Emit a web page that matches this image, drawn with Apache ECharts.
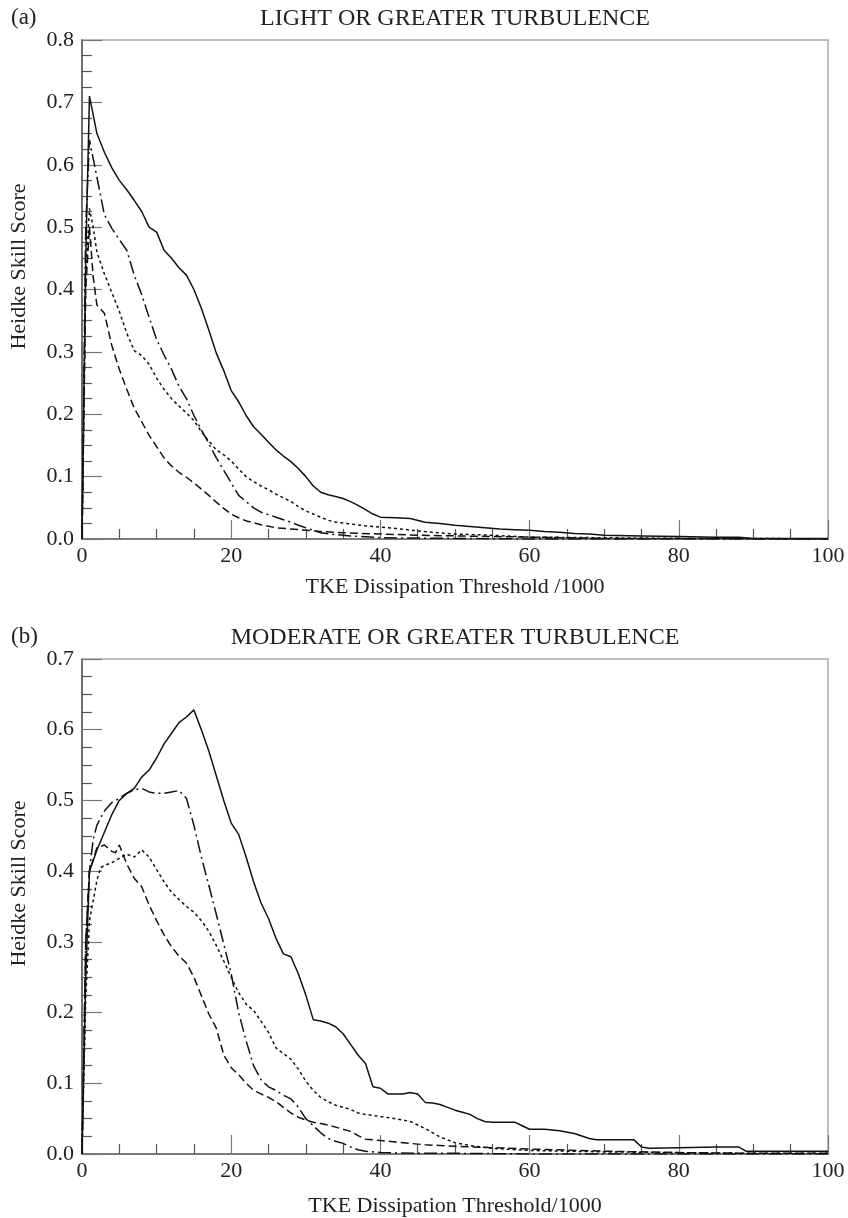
<!DOCTYPE html>
<html>
<head>
<meta charset="utf-8">
<script src="https://cdn.jsdelivr.net/npm/echarts@6/dist/echarts.min.js"></script>
<style>
html,body{margin:0;padding:0;background:#fff;}
#chart{width:848px;height:1218px;}
</style>
</head>
<body>
<div id="chart"></div>
<script>
// ---------- DATA ----------
const panelTitles = ['LIGHT OR GREATER TURBULENCE', 'MODERATE OR GREATER TURBULENCE'];
const panelTags = ['(a)', '(b)'];
const xNames = ['TKE Dissipation Threshold /1000', 'TKE Dissipation Threshold/1000'];
const yName = 'Heidke Skill Score';
const yMax = [0.8, 0.7];

// Panel (a) — light or greater
const aSolid = [[0,0],[0.5,0.45],[1,0.71],[2,0.65],[3,0.62],[4,0.595],[5,0.575],[6,0.56],[7,0.543],[8,0.525],[9,0.5],[10,0.492],[11,0.463],[12,0.45],[13,0.435],[14,0.423],[15,0.4],[16,0.37],[17,0.335],[18,0.298],[19,0.27],[20,0.238],[21,0.22],[22,0.198],[23,0.18],[24,0.168],[25,0.155],[26,0.143],[27,0.133],[28,0.124],[29,0.113],[30,0.1],[31,0.085],[32,0.075],[33,0.071],[34,0.068],[35,0.065],[36,0.06],[37,0.054],[38,0.047],[39,0.04],[40,0.035],[42,0.034],[44,0.033],[46,0.027],[48,0.025],[50,0.022],[52,0.02],[54,0.018],[56,0.016],[58,0.015],[60,0.014],[62,0.012],[64,0.011],[66,0.009],[68,0.008],[70,0.006],[75,0.005],[80,0.004],[85,0.003],[88,0.003],[90,0.001],[95,0.001],[100,0.001]];
const aDashDot = [[0,0],[0.5,0.5],[1,0.64],[1.5,0.61],[2,0.58],[3,0.52],[4,0.498],[5,0.48],[6,0.463],[7,0.423],[8,0.392],[9,0.355],[10,0.32],[11,0.295],[12,0.272],[13,0.245],[14,0.225],[15,0.198],[16,0.175],[17,0.153],[18,0.13],[19,0.11],[20,0.09],[21,0.07],[22,0.06],[23,0.05],[24,0.043],[25,0.039],[26,0.035],[27,0.031],[28,0.027],[29,0.022],[30,0.018],[31,0.014],[32,0.01],[34,0.007],[36,0.005],[40,0.002],[50,0.001],[60,0],[100,0]];
const aDotted = [[0,0],[0.5,0.42],[1,0.53],[1.5,0.5],[2,0.46],[3,0.425],[4,0.395],[5,0.365],[6,0.33],[7,0.302],[8,0.294],[9,0.28],[10,0.258],[11,0.24],[12,0.225],[13,0.213],[14,0.202],[15,0.19],[16,0.172],[17,0.157],[18,0.143],[19,0.135],[20,0.125],[21,0.112],[22,0.1],[23,0.092],[24,0.085],[25,0.079],[26,0.072],[27,0.066],[28,0.06],[29,0.052],[30,0.045],[31,0.04],[32,0.035],[33,0.03],[34,0.027],[36,0.024],[38,0.021],[40,0.019],[42,0.017],[45,0.013],[47,0.011],[50,0.008],[55,0.006],[60,0.003],[70,0.002],[80,0.001],[90,0.001],[100,0]];
const aDashed = [[0,0],[0.5,0.4],[1,0.5],[1.5,0.42],[2,0.375],[3,0.362],[4,0.31],[5,0.272],[6,0.24],[7,0.21],[8,0.188],[9,0.166],[10,0.148],[11,0.13],[12,0.117],[13,0.107],[14,0.099],[15,0.09],[16,0.08],[17,0.07],[18,0.059],[19,0.049],[20,0.04],[21,0.034],[22,0.029],[24,0.023],[26,0.018],[28,0.016],[30,0.014],[32,0.012],[35,0.01],[40,0.008],[45,0.006],[50,0.005],[60,0.003],[70,0.001],[80,0.001],[100,0]];

// Panel (b) — moderate or greater
const bSolid = [[0,0],[0.5,0.25],[1,0.4],[2,0.43],[3,0.455],[4,0.48],[5,0.5],[6,0.51],[7,0.517],[8,0.533],[9,0.543],[10,0.56],[11,0.58],[12,0.595],[13,0.61],[14,0.618],[15,0.628],[16,0.6],[17,0.57],[18,0.535],[19,0.5],[20,0.468],[21,0.452],[22,0.42],[23,0.385],[24,0.355],[25,0.333],[26,0.305],[27,0.283],[28,0.279],[29,0.255],[30,0.225],[31,0.19],[32,0.188],[33,0.185],[34,0.18],[35,0.17],[36,0.155],[37,0.14],[38,0.128],[39,0.095],[40,0.093],[41,0.085],[42,0.085],[43,0.085],[44,0.087],[45,0.085],[46,0.073],[47,0.072],[48,0.07],[49,0.066],[50,0.062],[51,0.059],[52,0.056],[53,0.05],[54,0.046],[55,0.045],[56,0.045],[57,0.045],[58,0.045],[59,0.04],[60,0.035],[62,0.035],[64,0.033],[66,0.029],[68,0.022],[69,0.02],[74,0.02],[75,0.01],[76,0.008],[80,0.009],[85,0.01],[88,0.01],[89,0.004],[100,0.004]];
const bDashDot = [[0,0],[0.5,0.3],[1,0.4],[1.5,0.445],[2,0.465],[3,0.485],[4,0.497],[5,0.503],[6,0.51],[7,0.515],[8,0.517],[9,0.512],[10,0.51],[11,0.51],[12,0.512],[13,0.514],[14,0.503],[15,0.465],[16,0.42],[17,0.38],[18,0.339],[19,0.297],[20,0.255],[21,0.2],[22,0.16],[23,0.125],[24,0.105],[25,0.095],[26,0.09],[27,0.083],[28,0.078],[29,0.066],[30,0.05],[31,0.04],[32,0.03],[33,0.022],[34,0.018],[35,0.015],[36,0.01],[37,0.006],[38,0.004],[40,0.002],[45,0.001],[50,0.001],[60,0],[100,0]];
const bDotted = [[0,0],[0.5,0.22],[1,0.33],[2,0.387],[2.5,0.405],[3,0.408],[4,0.412],[5,0.418],[6,0.424],[7,0.42],[8,0.43],[9,0.42],[10,0.402],[11,0.385],[12,0.37],[13,0.36],[14,0.35],[15,0.342],[16,0.33],[17,0.315],[18,0.295],[19,0.273],[20,0.25],[21,0.228],[22,0.212],[23,0.203],[24,0.188],[25,0.172],[26,0.15],[27,0.142],[28,0.134],[29,0.12],[30,0.103],[31,0.09],[32,0.08],[33,0.074],[34,0.069],[35,0.066],[36,0.063],[37,0.058],[38,0.056],[40,0.053],[42,0.05],[44,0.046],[46,0.036],[48,0.024],[50,0.016],[52,0.012],[55,0.008],[60,0.005],[70,0.003],[80,0.002],[90,0.001],[100,0.001]];
const bDashed = [[0,0],[0.5,0.3],[1,0.4],[2,0.433],[3,0.437],[4,0.428],[4.5,0.426],[5,0.437],[6,0.41],[7,0.39],[8,0.378],[9,0.352],[10,0.33],[11,0.31],[12,0.293],[13,0.28],[14,0.27],[15,0.25],[16,0.224],[17,0.198],[18,0.178],[19,0.14],[20,0.122],[21,0.112],[22,0.1],[23,0.09],[24,0.085],[25,0.08],[26,0.074],[27,0.066],[28,0.058],[29,0.052],[30,0.048],[31,0.045],[32,0.043],[33,0.041],[34,0.038],[35,0.035],[36,0.032],[37,0.026],[38,0.021],[40,0.019],[42,0.017],[44,0.015],[46,0.013],[48,0.012],[50,0.011],[55,0.009],[60,0.007],[70,0.004],[80,0.002],[90,0.001],[100,0.001]];

const panels = [[aSolid, aDashDot, aDotted, aDashed], [bSolid, bDashDot, bDotted, bDashed]];

// ---------- STYLE ----------
const FONT = '"Liberation Serif", "Times New Roman", serif';
const TXT = '#222';
const dashStyles = ['solid', [13, 4, 2, 4], [3, 3], [8, 4]];
const grids = [
  {left: 78, right: 20, top: 40, height: 499},
  {left: 78, right: 20, top: 659, height: 500}
];

const chart = echarts.init(document.getElementById('chart'), null, {renderer: 'canvas'});

const xAxes = grids.map((g, i) => ({
  gridIndex: i, type: 'value', min: 0, max: 100, interval: 20,
  axisLine: {show: true, onZero: false, lineStyle: {color: '#666', width: 1.5}},
  axisTick: {show: true, inside: true, length: 19, lineStyle: {color: '#777', width: 1.2}},
  minorTick: {show: true, splitNumber: 4, length: 10, lineStyle: {color: '#555', width: 1.2}},
  splitLine: {show: false},
  axisLabel: {color: TXT, fontSize: 22, fontFamily: FONT, margin: 6},
  name: xNames[i], nameLocation: 'middle', nameGap: i === 0 ? 37 : 41,
  nameTextStyle: {color: TXT, fontSize: 22, fontFamily: FONT}
}));

const yAxes = grids.map((g, i) => ({
  gridIndex: i, type: 'value', min: 0, max: yMax[i], interval: 0.1,
  axisLine: {show: true, onZero: false, lineStyle: {color: '#555', width: 1.5}},
  axisTick: {show: true, inside: true, length: 20, lineStyle: {color: '#777', width: 1.2}},
  minorTick: {show: true, splitNumber: 4, length: 10, lineStyle: {color: '#555', width: 1.2}},
  splitLine: {show: false},
  axisLabel: {color: TXT, fontSize: 22, fontFamily: FONT, margin: 8, formatter: v => v.toFixed(1)},
  name: yName, nameLocation: 'middle', nameGap: 52, nameRotate: 90,
  nameTextStyle: {color: TXT, fontSize: 22, fontFamily: FONT, padding: [0, 0, 0, 46]}
}));

const series = [];
panels.forEach((set, pi) => {
  set.forEach((data, si) => {
    series.push({
      type: 'line', xAxisIndex: pi, yAxisIndex: pi, data: data,
      showSymbol: false, symbol: 'none', smooth: false, silent: true,
      lineStyle: {color: '#111', width: 1.5, type: dashStyles[si]}
    });
  });
});

const graphics = [];
panelTitles.forEach((t, i) => {
  const gy = grids[i].top;
  graphics.push({type: 'text', x: 455, y: gy - 21, style: {text: t, font: '24px ' + FONT, fill: TXT, textAlign: 'center', textVerticalAlign: 'middle'}});
  graphics.push({type: 'text', x: 11, y: gy - 22, style: {text: panelTags[i], font: '23px ' + FONT, fill: TXT, textAlign: 'left', textVerticalAlign: 'middle'}});
});

chart.setOption({
  animation: false,
  backgroundColor: '#fff',
  grid: grids.map(g => Object.assign({show: true, borderColor: '#aaa', borderWidth: 1.5, backgroundColor: 'transparent'}, g)),
  xAxis: xAxes,
  yAxis: yAxes,
  series: series,
  graphic: graphics
});
</script>
</body>
</html>
